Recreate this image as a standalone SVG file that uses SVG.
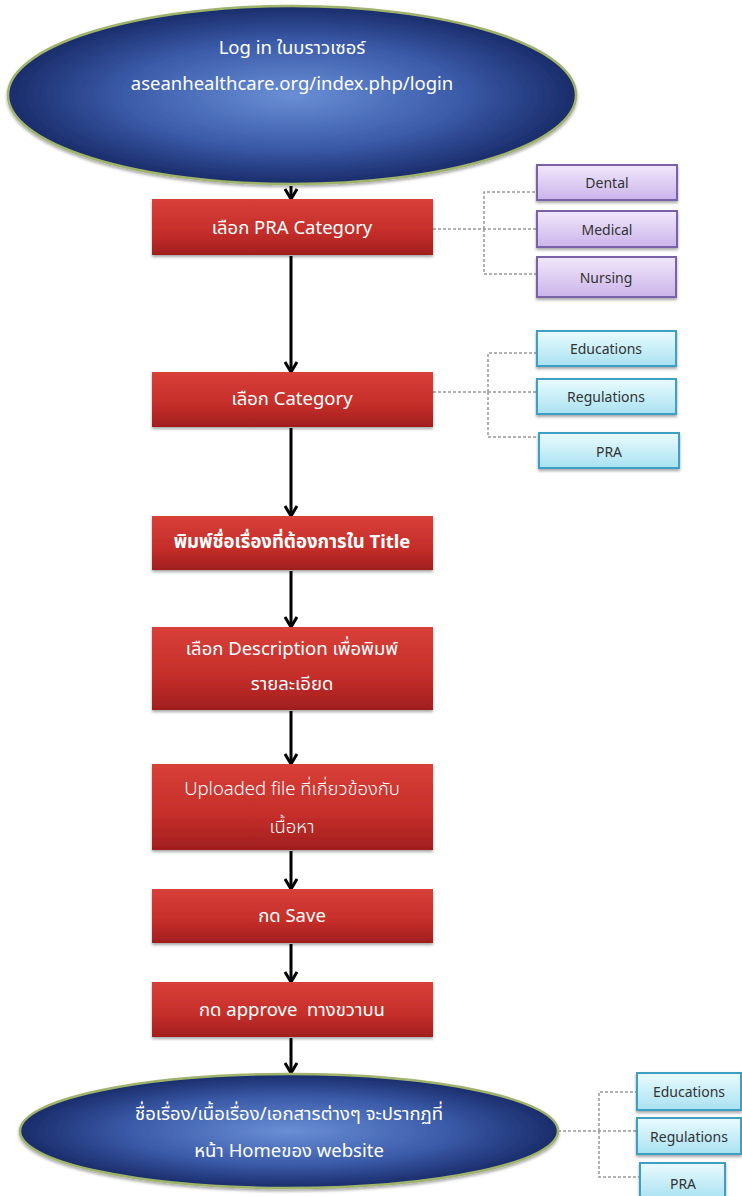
<svg xmlns="http://www.w3.org/2000/svg" width="742" height="1196" viewBox="0 0 742 1196">
<defs>
<radialGradient id="gEll" cx="50%" cy="50%" r="50%">
<stop offset="0" stop-color="#6a8fd6"/>
<stop offset="0.6" stop-color="#3a5aa8"/>
<stop offset="1" stop-color="#1a2c6a"/>
</radialGradient>
<linearGradient id="gRed" x1="0" y1="0" x2="0" y2="1">
<stop offset="0" stop-color="#d84038"/>
<stop offset="0.6" stop-color="#c42e2a"/>
<stop offset="1" stop-color="#a11e1e"/>
</linearGradient>
<linearGradient id="gPur" x1="0" y1="0" x2="0" y2="1">
<stop offset="0" stop-color="#f1e8fb"/>
<stop offset="1" stop-color="#cbb4ea"/>
</linearGradient>
<linearGradient id="gCyan" x1="0" y1="0" x2="0" y2="1">
<stop offset="0" stop-color="#eafbfe"/>
<stop offset="1" stop-color="#a9e2f1"/>
</linearGradient>
<filter id="sh" x="-10%" y="-10%" width="120%" height="130%">
<feDropShadow dx="0" dy="2" stdDeviation="1.5" flood-color="#000" flood-opacity="0.35"/>
</filter>
<marker id="arr" viewBox="0 0 12 14" refX="11" refY="7" markerWidth="12" markerHeight="14" markerUnits="userSpaceOnUse" orient="auto">
<path d="M1,1 L11,7 L1,13" fill="none" stroke="#000" stroke-width="3" stroke-linejoin="miter"/>
</marker>
</defs>
<style>
.ell{fill:url(#gEll);stroke:#9fb36c;stroke-width:2.5;filter:url(#sh)}
.red{fill:url(#gRed);filter:url(#sh)}
.pur{fill:url(#gPur);stroke:#7a62a8;stroke-width:2;filter:url(#sh)}
.cy{fill:url(#gCyan);stroke:#3d9fc4;stroke-width:2;filter:url(#sh)}
.t{font-family:"Noto Sans","Noto Sans Thai","Liberation Sans",sans-serif;fill:#fff;font-size:18.5px;text-anchor:middle}
.b{font-weight:bold}
.l{font-weight:300}
.s{font-family:"Noto Sans","Liberation Sans",sans-serif;fill:#333;font-size:14px;text-anchor:middle}
.ar{stroke:#000;stroke-width:3;fill:none;marker-end:url(#arr)}
.dl{stroke:#999;stroke-width:1.5;fill:none;stroke-dasharray:3,2}
</style>

<g id="connectors">
<line class="ar" x1="291" y1="186" x2="291" y2="199"/>
<line class="ar" x1="291" y1="256" x2="291" y2="372"/>
<line class="ar" x1="291" y1="428" x2="291" y2="516"/>
<line class="ar" x1="291" y1="571" x2="291" y2="627"/>
<line class="ar" x1="291" y1="711" x2="291" y2="764"/>
<line class="ar" x1="291" y1="851" x2="291" y2="889"/>
<line class="ar" x1="291" y1="944" x2="291" y2="982"/>
<line class="ar" x1="291" y1="1038" x2="291" y2="1073"/>
<path class="dl" d="M433,229 H537 M484,229 V192 H537 M484,229 V274 H537"/>
<path class="dl" d="M433,392 H537 M488,392 V353 H537 M488,392 V437 H539"/>
<path class="dl" d="M558,1131 H637 M599,1131 V1092 H637 M599,1131 V1177 H640"/>
</g>

<g id="start">
<ellipse class="ell" cx="292" cy="95" rx="284" ry="89"/>
<text class="t" x="292" y="54">Log in ในบราวเซอร์</text>
<text class="t" x="292" y="90">aseanhealthcare.org/index.php/login</text>
</g>

<g id="pra-category">
<rect class="red" x="152" y="199" width="281" height="56"/>
<text class="t" x="292" y="234">เลือก PRA Category</text>
</g>
<g id="dental"><rect class="pur" x="537" y="165" width="140" height="35"/><text class="s" x="607" y="188">Dental</text></g>
<g id="medical"><rect class="pur" x="537" y="211" width="140" height="36"/><text class="s" x="607" y="235">Medical</text></g>
<g id="nursing"><rect class="pur" x="537" y="257" width="139" height="40"/><text class="s" x="606" y="283">Nursing</text></g>

<g id="category">
<rect class="red" x="152" y="372" width="281" height="55"/>
<text class="t" x="292" y="405">เลือก Category</text>
</g>
<g id="educations"><rect class="cy" x="537" y="331" width="139" height="35"/><text class="s" x="606" y="354">Educations</text></g>
<g id="regulations"><rect class="cy" x="537" y="379" width="139" height="35"/><text class="s" x="606" y="402">Regulations</text></g>
<g id="pra"><rect class="cy" x="539" y="433" width="140" height="35"/><text class="s" x="609" y="457">PRA</text></g>

<g id="title">
<rect class="red" x="152" y="516" width="281" height="54"/>
<text class="t b" x="292" y="548">พิมพ์ชื่อเรื่องที่ต้องการใน Title</text>
</g>

<g id="description">
<rect class="red" x="152" y="627" width="281" height="83"/>
<text class="t" x="292" y="655">เลือก Description เพื่อพิมพ์</text>
<text class="t" x="292" y="690">รายละเอียด</text>
</g>

<g id="upload">
<rect class="red" x="152" y="764" width="281" height="86"/>
<text class="t l" x="292" y="795">Uploaded file ที่เกี่ยวข้องกับ</text>
<text class="t l" x="292" y="833">เนื้อหา</text>
</g>

<g id="save">
<rect class="red" x="152" y="889" width="281" height="54"/>
<text class="t" x="292" y="922">กด Save</text>
</g>

<g id="approve">
<rect class="red" x="152" y="982" width="281" height="55"/>
<text class="t" x="292" y="1016" xml:space="preserve">กด approve  ทางขวาบน</text>
</g>

<g id="end">
<ellipse class="ell" cx="289" cy="1131" rx="269" ry="57"/>
<text class="t" x="289" y="1120">ชื่อเรื่อง/เนื้อเรื่อง/เอกสารต่างๆ จะปรากฏที่</text>
<text class="t" x="289" y="1157">หน้า Homeของ website</text>
</g>
<g id="educations2"><rect class="cy" x="637" y="1073" width="104" height="37"/><text class="s" x="689" y="1097">Educations</text></g>
<g id="regulations2"><rect class="cy" x="637" y="1118" width="104" height="36"/><text class="s" x="689" y="1142">Regulations</text></g>
<g id="pra2"><rect class="cy" x="640" y="1163" width="85" height="36"/><text class="s" x="683" y="1189">PRA</text></g>
</svg>
